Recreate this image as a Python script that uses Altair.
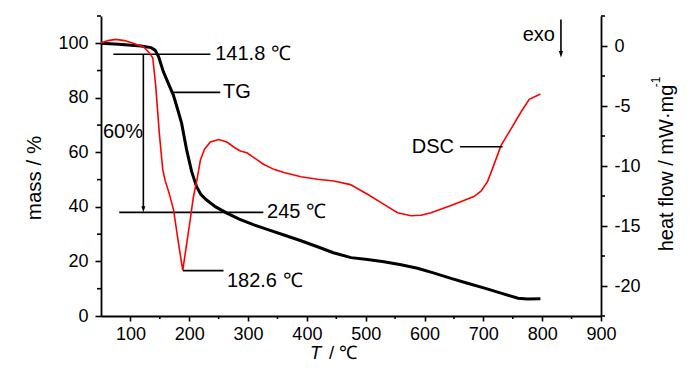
import altair as alt
import pandas as pd

FONT = "Liberation Sans Narrow, Arial Narrow, Liberation Sans, Arial, sans-serif"

# ---- data ----
tg_temp = [50, 80, 118, 135, 142, 148, 156, 165, 173, 180, 187, 195.5, 204, 212.5, 220, 229,
           245, 264, 285, 310, 335, 361, 390, 418, 445, 475, 503, 531, 560, 588, 615, 645,
           673, 702, 730, 759, 775, 797]
tg_mass = [100, 99.6, 99.0, 98.4, 97.5, 95, 89.6, 85, 81, 76, 70.7, 61, 53, 47.4, 44.5, 42.6,
           40, 37.7, 35.5, 33.4, 31.6, 29.7, 27.6, 25.4, 23.2, 21.4, 20.7, 19.9, 18.8, 17.5, 15.8, 13.8,
           12, 10.2, 8.4, 6.5, 6.2, 6.3]

dsc_temp = [50, 62, 75, 90, 106, 123, 133, 138, 143, 149, 155, 159, 166, 173.5, 181, 189,
            195, 201.6, 207, 213, 219, 226, 236, 250, 264, 278, 287, 298, 310, 326, 345, 361,
            390, 418, 446, 474, 503, 531, 554, 577, 594, 611, 645, 684, 696, 707, 713, 730,
            747, 764, 778, 797]
dsc_heat = [0.25, 0.45, 0.55, 0.45, 0.2, -0.1, -0.6, -1.0, -3.3, -7.2, -10.3, -11.2, -12.3, -13.7, -16.2, -18.7,
            -16.7, -14.5, -12.6, -11.2, -9.5, -8.6, -8.0, -7.8, -8.0, -8.5, -8.75, -8.9, -9.3, -9.85, -10.3, -10.55,
            -10.9, -11.1, -11.25, -11.55, -12.35, -13.2, -13.9, -14.15, -14.1, -13.9, -13.3, -12.55, -12.1, -11.3, -10.55, -8.3,
            -6.9, -5.5, -4.45, -4.0]

x_major = [100, 200, 300, 400, 500, 600, 700, 800, 900]
x_minor = [150, 250, 350, 450, 550, 650, 750, 850]
mass_major = [0, 20, 40, 60, 80, 100]
mass_minor = [10, 30, 50, 70, 90, 110]
heat_major = [-20, -15, -10, -5, 0]
heat_minor = [-22.5, -17.5, -12.5, -7.5, -2.5, 2.5]

# annotations (data coordinates)
tg_rules = pd.DataFrame({
    "x": [71, 122, 81, 170.4],
    "x2": [236, 122, 326, 252.7],
    "y": [96, 96, 38, 82],
    "y2": [96, 39.5, 38, 82],
})
tg_texts = pd.DataFrame({
    "x": [244.2, 257.3, 332.3, 53.4],
    "y": [96, 82, 38, 67.6],
    "label": ["141.8 ℃", "TG", "245 ℃", "60%"],
})
tg_heads = pd.DataFrame({"x": [122], "y": [38]})

dsc_rules = pd.DataFrame({
    "x": [189.2, 660.4, 831.9],
    "x2": [258.3, 732.6, 831.9],
    "y": [-18.72, -8.39, 2.2],
    "y2": [-18.72, -8.39, -0.6],
})
dsc_texts_left = pd.DataFrame({"x": [264.1], "y": [-19.6], "label": ["182.6 ℃"]})
dsc_texts_right = pd.DataFrame({"x": [650.2, 821.7], "y": [-8.39, 0.92], "label": ["DSC", "exo"]})
dsc_heads = pd.DataFrame({"x": [831.9], "y": [-0.95]})

one = pd.DataFrame({"a": [0]})

tg_df = pd.DataFrame({"T": tg_temp, "mass": tg_mass})
dsc_df = pd.DataFrame({"T": dsc_temp, "heat": dsc_heat})

xs = alt.Scale(domain=[50, 900], nice=False, zero=False)
ysm = alt.Scale(domain=[0, 110], nice=False, zero=False)
ysh = alt.Scale(domain=[-22.5, 2.5], nice=False, zero=False)

common = dict(domainColor="black", domainWidth=1.8, tickColor="black", tickWidth=1.6,
              labelColor="black", labelFont=FONT, labelFontSize=18, grid=False,
              labelOverlap=False, labelFlush=False, title=None)

x_axis = alt.Axis(values=x_major, tickSize=5, labelPadding=4, **common)
left_axis = alt.Axis(values=mass_major, orient="left", tickSize=6, labelPadding=7, **common)
right_axis = alt.Axis(values=heat_major, orient="right", tickSize=6, labelPadding=7,
                      labelExpr="'' + datum.value", **common)


def X(field):
    return alt.X(field, scale=xs, axis=x_axis)


def YM(field):
    return alt.Y(field, scale=ysm, axis=left_axis)


def YH(field):
    return alt.Y(field, scale=ysh, axis=right_axis)


arrow_path = "M-0.32,-1 L0.32,-1 L0,0 Z"
ANN = 20

tg_line = alt.Chart(tg_df).mark_line(color="black", strokeWidth=3).encode(
    x=X("T:Q"), y=YM("mass:Q"))
tg_rule = alt.Chart(tg_rules).mark_rule(color="black", strokeWidth=1.6).encode(
    x=X("x:Q"), x2="x2:Q", y=YM("y:Q"), y2="y2:Q")
tg_text = alt.Chart(tg_texts).mark_text(align="left", baseline="middle", font=FONT,
                                        fontSize=ANN, color="black").encode(
    x=X("x:Q"), y=YM("y:Q"), text="label:N")
tg_head = alt.Chart(tg_heads).mark_point(shape=arrow_path, filled=True, color="black",
                                         opacity=1, size=150, strokeWidth=0).encode(
    x=X("x:Q"), y=YM("y:Q"))
x_minor_ticks = alt.Chart(pd.DataFrame({"v": x_minor})).mark_rule(color="black", strokeWidth=1.6).encode(
    x=X("v:Q"), y=alt.value(300), y2=alt.value(303))
left_minor_ticks = alt.Chart(pd.DataFrame({"v": mass_minor})).mark_rule(color="black", strokeWidth=1.6).encode(
    y=YM("v:Q"), x=alt.value(0), x2=alt.value(-4))

dsc_line = alt.Chart(dsc_df).mark_line(color="#ff0000", strokeWidth=1.6).encode(
    x=X("T:Q"), y=YH("heat:Q"))
dsc_rule = alt.Chart(dsc_rules).mark_rule(color="black", strokeWidth=1.6).encode(
    x=X("x:Q"), x2="x2:Q", y=YH("y:Q"), y2="y2:Q")
dsc_text_l = alt.Chart(dsc_texts_left).mark_text(align="left", baseline="middle", font=FONT,
                                                 fontSize=ANN, color="black").encode(
    x=X("x:Q"), y=YH("y:Q"), text="label:N")
dsc_text_r = alt.Chart(dsc_texts_right).mark_text(align="right", baseline="middle", font=FONT,
                                                  fontSize=ANN, color="black").encode(
    x=X("x:Q"), y=YH("y:Q"), text="label:N")
dsc_head = alt.Chart(dsc_heads).mark_point(shape=arrow_path, filled=True, color="black",
                                           opacity=1, size=170, strokeWidth=0).encode(
    x=X("x:Q"), y=YH("y:Q"))
right_minor_ticks = alt.Chart(pd.DataFrame({"v": heat_minor})).mark_rule(color="black", strokeWidth=1.6).encode(
    y=YH("v:Q"), x=alt.value(500), x2=alt.value(504))

# axis titles as text
title_left = alt.Chart(one).mark_text(angle=270, align="center", baseline="middle", font=FONT,
                                      fontSize=20.5, color="black").encode(
    x=alt.value(-66), y=alt.value(162), text=alt.value("mass / %"))
title_x_t = alt.Chart(one).mark_text(align="left", baseline="middle", font=FONT, fontStyle="italic",
                                     fontSize=18.5, color="black").encode(
    x=alt.value(209), y=alt.value(336.5), text=alt.value("T"))
title_x_rest = alt.Chart(one).mark_text(align="left", baseline="middle", font=FONT,
                                        fontSize=18.5, color="black").encode(
    x=alt.value(228), y=alt.value(336.5), text=alt.value("/ ℃"))
title_right = alt.Chart(one).mark_text(angle=270, align="center", baseline="middle", font=FONT,
                                       fontSize=20, color="black").encode(
    x=alt.value(566), y=alt.value(152), text=alt.value("heat flow / mW·mg"))
title_right_sup = alt.Chart(one).mark_text(angle=270, align="center", baseline="middle", font=FONT,
                                           fontSize=12, color="black").encode(
    x=alt.value(555), y=alt.value(66), text=alt.value("-1"))

tg_group = alt.layer(tg_line, tg_rule, tg_text, tg_head, x_minor_ticks, left_minor_ticks)
dsc_group = alt.layer(dsc_line, dsc_rule, dsc_text_l, dsc_text_r, dsc_head, right_minor_ticks)

chart = alt.layer(tg_group, dsc_group, title_left, title_x_t, title_x_rest,
                  title_right, title_right_sup).resolve_scale(y="independent").properties(
    width=500, height=300,
    autosize=alt.AutoSizeParams(type="none"),
    padding={"left": 93, "top": 8, "right": 90, "bottom": 46},
).configure_view(stroke=None)

chart.save("out.html", embed_options={"renderer": "svg", "actions": False})
